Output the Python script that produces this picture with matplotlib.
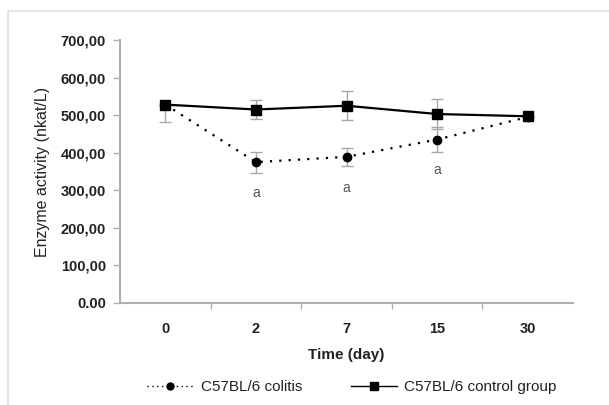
import matplotlib
matplotlib.use("Agg")
import matplotlib.pyplot as plt
from matplotlib.lines import Line2D

# Enzyme activity over time (nkat/L)
days = ["0", "2", "7", "15", "30"]
colitis = [528, 375, 389, 435, 495]
colitis_err_low = [47, 28, 24, 33, 0]
colitis_err_high = [0, 28, 24, 33, 0]
control = [528, 515, 525, 503, 497]
control_err = [0, 24, 39, 39, 0]
sig_letters = ["", "a", "a", "a", ""]
y_ticks = [0, 100, 200, 300, 400, 500, 600, 700]

plt.rcParams["font.family"] = ["Liberation Sans", "DejaVu Sans"]

fig = plt.figure(figsize=(6.09, 4.05), dpi=100)
ax = fig.add_axes([120 / 609, 1 - 303 / 405, (573 - 120) / 609, (303 - 40) / 405])

x = list(range(len(days)))

ax.errorbar(x, control, yerr=control_err, fmt="none", ecolor="#a8a8a8",
            elinewidth=1.0, capsize=4, capthick=1.0, zorder=2)
ax.errorbar(x, colitis, yerr=[colitis_err_low, colitis_err_high], fmt="none",
            ecolor="#a8a8a8", elinewidth=1.0, capsize=4, capthick=1.0, zorder=2)

ax.plot(x, control, color="black", linewidth=1.6, marker="s", markersize=7,
        zorder=4)
ax.plot(x, colitis, color="black", linewidth=1.6, linestyle=(0, (1, 3.2)),
        marker="o", markersize=6, zorder=3)

for xi, val, letter in zip(x, colitis, sig_letters):
    if letter:
        ax.text(xi, val - 82, letter, ha="center", va="center", fontsize=10,
                color="#555555")

ax.set_xlim(-0.5, len(days) - 0.5)
ax.set_ylim(0, 700)
ax.set_yticks(y_ticks)
ax.set_yticklabels([f"{v:.2f}".replace(".", ",") if v else "0.00" for v in y_ticks])
ax.set_xticks(x)
ax.set_xticklabels(days)
ax.set_xticks([i + 0.5 for i in x[:-1]], minor=True)

for side in ("top", "right"):
    ax.spines[side].set_visible(False)
for side in ("left", "bottom"):
    ax.spines[side].set_color("#b0b0b0")
    ax.spines[side].set_linewidth(1.5)

ax.tick_params(axis="y", which="major", length=5, width=1, color="#b0b0b0",
               labelsize=10.5, labelcolor="#222222", pad=5)
ax.tick_params(axis="x", which="major", length=0, labelsize=10.5,
               labelcolor="#222222", pad=14)
ax.tick_params(axis="x", which="minor", length=4, width=1, color="#b0b0b0")
for lab in ax.get_yticklabels() + ax.get_xticklabels():
    lab.set_fontweight("bold")

ax.set_xlabel("Time (day)", fontsize=11, fontweight="bold", color="#222222",
              labelpad=8)
ax.set_ylabel("Enzyme activity (nkat/L)", fontsize=11.5, color="#222222",
              labelpad=8)

handles = [
    Line2D([], [], color="black", linewidth=1.0, linestyle=(0, (1, 2.5)),
           marker="o", markersize=5),
    Line2D([], [], color="black", linewidth=1.0, marker="s", markersize=6),
]
fig.legend(handles, ["C57BL/6 colitis", "C57BL/6 control group"],
           loc="center", bbox_to_anchor=(352 / 609, 1 - 387 / 405), ncol=2,
           frameon=False, fontsize=11, handlelength=3.0, columnspacing=3.2,
           handletextpad=0.5, labelcolor="#222222")

# light frame around the chart area
fig.add_artist(Line2D([8 / 609, 8 / 609], [0, 1 - 11 / 405],
                      transform=fig.transFigure, color="#e0e0e0", linewidth=1.2))
fig.add_artist(Line2D([8 / 609, 1], [1 - 11 / 405, 1 - 11 / 405],
                      transform=fig.transFigure, color="#e0e0e0", linewidth=1.2))

fig.savefig("out.png", dpi=100, facecolor="white")
